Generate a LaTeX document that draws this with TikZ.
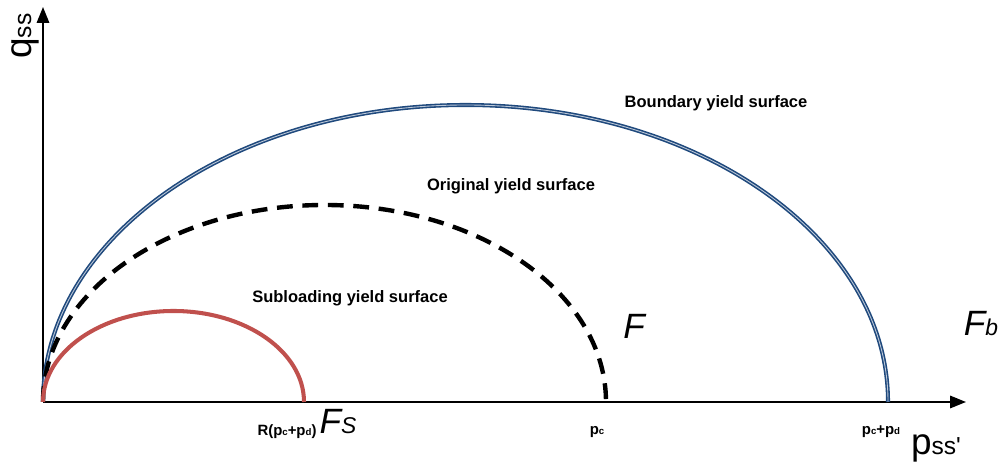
\documentclass[tikz,border=0pt]{standalone}
\usepackage{fontspec}
\setmainfont{Liberation Sans}
\usetikzlibrary{arrows.meta}
\definecolor{bndblue}{RGB}{31,73,125}
\definecolor{subred}{RGB}{192,80,77}

\begin{document}
\begin{tikzpicture}[x=0.02cm,y=0.02cm,
    axis/.style={line width=1.1pt,-{Triangle[length=9pt,width=7pt]}},
    surflabel/.style={font=\bfseries\fontsize{9.4}{10}\selectfont},
    ticklabel/.style={font=\bfseries\fontsize{8.5}{9}\selectfont},
    bigF/.style={font=\itshape\fontsize{20}{21}\selectfont}]
    \useasboundingbox (0,0) rectangle (1006,472);
    % axes
    \coordinate (O) at (43,70);
    \coordinate (xend) at (966,70);
    \coordinate (yend) at (43,465);
    \draw[axis] (O) -- (xend);
    \draw[axis] (O) -- (yend);
    \node[rotate=90] (qlab) at (25,436) {{\fontsize{21}{22}\selectfont q}{\fontsize{14}{15}\selectfont ss}};
    \node (plab) at (936,24) {{\fontsize{21}{22}\selectfont p}{\fontsize{14}{15}\selectfont ss\textquotesingle}};
    % yield surfaces
    \draw[bndblue, line width=0.9pt, double=bndblue!30, double distance=0.5pt] (O) arc (180:0:422.5 and 297);
    \draw[black, line width=2.5pt, dash pattern=on 9pt off 5.5pt] (O) arc (180:0:281.5 and 197);
    \draw[subred, line width=2.3pt] (O) arc (180:0:130.5 and 91);
    % labels
    \node[surflabel] (bys) at (716,369) {Boundary yield surface};
    \node[surflabel] (oys) at (511,286) {Original yield surface};
    \node[surflabel] (sys) at (350,174) {Subloading yield surface};
    \node[ticklabel] (rp) at (287,40) {R(p{\fontsize{5.5}{6}\selectfont c}+p{\fontsize{5.5}{6}\selectfont d})};
    \node[ticklabel] (pc) at (597,40) {p{\fontsize{5.5}{6}\selectfont c}};
    \node[ticklabel] (pcd) at (881,40) {p{\fontsize{5.5}{6}\selectfont c}+p{\fontsize{5.5}{6}\selectfont d}};
    \node[bigF] (fs) at (338,50) {F{\fontsize{13}{14}\selectfont S}};
    \node[bigF] (f) at (634,146) {F};
    \node[bigF] (fb) at (981,148) {F{\fontsize{13}{14}\selectfont b}};
\end{tikzpicture}
\end{document}
